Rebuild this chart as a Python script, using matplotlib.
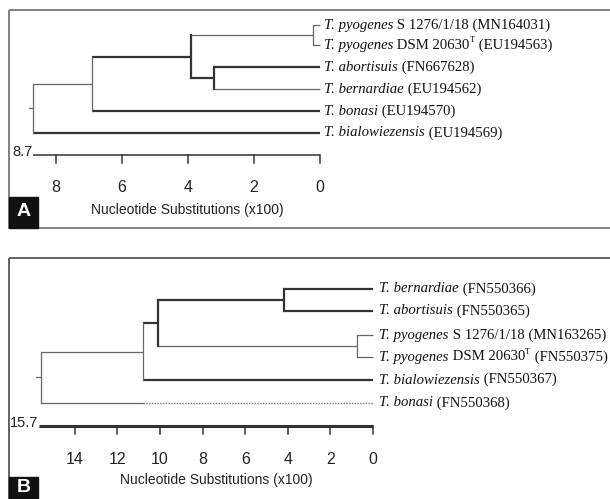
import matplotlib.pyplot as plt
from matplotlib.patches import Rectangle

# ---- data --------------------------------------------------------------
# panel A
species_a = ['T. pyogenes', 'T. pyogenes', 'T. abortisuis', 'T. bernardiae',
             'T. bonasi', 'T. bialowiezensis']
strain_a = [' S 1276/1/18 (MN164031)', ' DSM 20630^T (EU194563)',
            ' (FN667628)', ' (EU194562)', ' (EU194570)', ' (EU194569)']
# (child, child, height x100); ids >= number of leaves are earlier merges
merges_a = [(0, 1, 0.2), (2, 3, 3.2), (6, 7, 3.9), (8, 4, 6.9), (9, 5, 8.7)]
root_a = 8.7
ticks_a = [8, 6, 4, 2, 0]

# panel B
species_b = ['T. bernardiae', 'T. abortisuis', 'T. pyogenes', 'T. pyogenes',
             'T. bialowiezensis', 'T. bonasi']
strain_b = [' (FN550366)', ' (FN550365)', ' S 1276/1/18 (MN163265)',
            ' DSM 20630^T (FN550375)', ' (FN550367)', ' (FN550368)']
merges_b = [(0, 1, 4.2), (2, 3, 0.75), (6, 7, 10.1), (8, 4, 10.8), (9, 5, 15.6)]
root_b = 15.7
ticks_b = [14, 12, 10, 8, 6, 4, 2, 0]

# ---- layout (pixels) ---------------------------------------------------
W, H = 610, 499
rows_a = [25, 45, 67, 89, 111, 133]
rows_b = [289, 311, 335, 357, 380, 403]
dark, light = '#333333', '#666666'
serif = 'Liberation Serif'
sans = 'Liberation Sans'
fs_leaf = 10.6


def tree(ax, n, merges, rows, thin, dotted=None, dotted_from=None):
    y = {i: rows[i] for i in range(n)}
    h = {i: 0.0 for i in range(n)}
    for k, (c1, c2, ht) in enumerate(merges):
        node = n + k
        for c in (c1, c2):
            lw, col = (0.9, light) if c in thin else (1.6, dark)
            if c == dotted:
                ax.plot([ht, dotted_from], [y[c], y[c]], color=light, lw=0.9)
                ax.plot([dotted_from, 0], [y[c], y[c]], color='#777777',
                        lw=1.0, ls=(0, (1, 1)))
            else:
                ax.plot([h[c], ht], [y[c], y[c]], color=col, lw=lw,
                        solid_capstyle='butt')
        lw, col = (0.9, light) if node in thin else (1.6, dark)
        ax.plot([ht, ht], [y[c1], y[c2]], color=col, lw=lw)
        y[node] = (y[c1] + y[c2]) / 2
        h[node] = ht
    return y[n + len(merges) - 1], h[n + len(merges) - 1]


def leaf_label(ax, x, y, sp, rest):
    t = ax.text(x, y, sp, ha='left', va='center', fontsize=fs_leaf,
                family=serif, style='italic', color='#111111')
    parts = rest.split('^T')
    base = ax.annotate(parts[0], xy=(1, 0), xycoords=t, ha='left', va='bottom',
                       fontsize=fs_leaf, family=serif, color='#111111')
    if len(parts) > 1:
        sup = ax.annotate('T', xy=(1, 0.55), xycoords=base, ha='left',
                          va='bottom', fontsize=fs_leaf * 0.6, family=serif,
                          color='#111111')
        ax.annotate(parts[1], xy=(1, 0), xycoords=(sup, base), ha='left',
                    va='bottom', fontsize=fs_leaf, family=serif, color='#111111')


def scale_bar(ax, root, ticks, ybar, lw):
    ax.plot([root, 0], [ybar, ybar], color=dark, lw=lw, solid_capstyle='butt')
    for t in ticks:
        ax.plot([t, t], [ybar, ybar + 8], color=dark, lw=1.1)
        ax.text(t, ybar + 33, str(t), ha='center', va='center',
                fontsize=11.5, family=sans, color='#222222')
    ax.text(root, ybar - 3, f'{root}', ha='right', va='center',
            fontsize=10.5, family=sans, color='#222222')


fig = plt.figure(figsize=(W / 100, H / 100), dpi=100)
ax_px = fig.add_axes([0, 0, 1, 1])
ax_px.set_xlim(0, W)
ax_px.set_ylim(H, 0)
ax_px.set_axis_off()

# panel A, 1 unit = 33 px, 0 at x=320
ax_a = fig.add_axes([0, 0, 1, 1])
ax_a.set_xlim(320 / 33, (320 - W) / 33)
ax_a.set_ylim(H, 0)
ax_a.set_axis_off()
ra_y, ra_h = tree(ax_a, len(species_a), merges_a, rows_a, thin={0, 1, 3, 6, 9, 10})
ax_a.plot([ra_h + 0.12, ra_h], [ra_y, ra_y], color=light, lw=0.9)
for yy, sp, rest in zip(rows_a, species_a, strain_a):
    leaf_label(ax_a, -0.12, yy, sp, rest)
scale_bar(ax_a, root_a, ticks_a, 155, 1.1)
ax_px.text(187, 210, 'Nucleotide Substitutions (x100)', ha='center',
           va='center', fontsize=10, family=sans, color='#222222')

# panel B, 1 unit = 21.3 px, 0 at x=373
ax_b = fig.add_axes([0, 0, 1, 1])
ax_b.set_xlim(373 / 21.3, (373 - W) / 21.3)
ax_b.set_ylim(H, 0)
ax_b.set_axis_off()
rb_y, rb_h = tree(ax_b, len(species_b), merges_b, rows_b, thin={2, 3, 7, 9, 10},
                  dotted=5, dotted_from=merges_b[3][2])
ax_b.plot([rb_h + 0.2, rb_h], [rb_y, rb_y], color=light, lw=0.9)
for yy, sp, rest in zip(rows_b, species_b, strain_b):
    leaf_label(ax_b, -0.3, yy, sp, rest)
scale_bar(ax_b, root_b, ticks_b, 426, 2.2)
ax_px.text(216, 480, 'Nucleotide Substitutions (x100)', ha='center',
           va='center', fontsize=10, family=sans, color='#222222')

# frames and panel letters
ax_px.add_patch(Rectangle((9, 10), 606, 218, fill=False, ec='#777777', lw=1.3))
ax_px.add_patch(Rectangle((9, 258), 606, 260, fill=False, ec='#555555', lw=1.3))
for top, letter, dy in [(197, 'A', 15), (477, 'B', 11)]:
    ax_px.add_patch(Rectangle((9, top), 29, 31, color='#111111'))
    ax_px.text(23.5, top + dy, letter, ha='center', va='center', color='white',
               fontsize=14, fontweight='bold', family=sans)

fig.savefig('out.png', dpi=100)
